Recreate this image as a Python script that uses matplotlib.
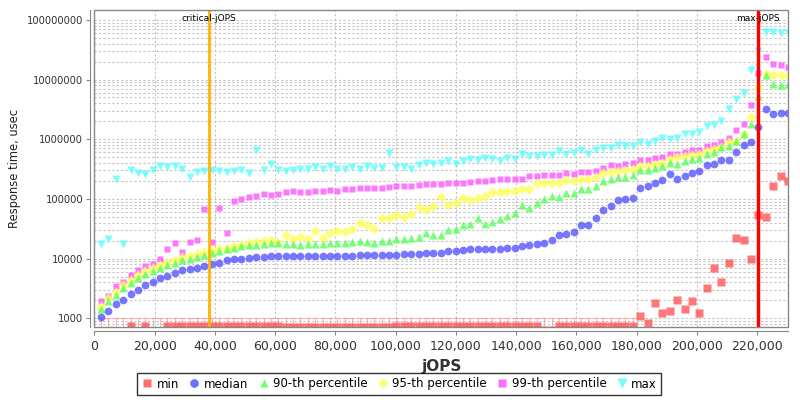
import matplotlib
matplotlib.use("Agg")
import matplotlib.pyplot as plt
import matplotlib.transforms as mtransforms
from matplotlib.lines import Line2D
from matplotlib.patches import Rectangle
from matplotlib.ticker import FuncFormatter, FixedLocator, LogLocator, NullFormatter

# jOPS of each response-time step
jops = [2222, 4673, 7124, 9575, 12026, 14477, 16928, 19379, 21830, 24281,
        26732, 29183, 31634, 34085, 36536, 38987, 41438, 43889, 46340, 48791,
        51242, 53693, 56144, 58595, 61046, 63497, 65948, 68399, 70850, 73301,
        75752, 78203, 80654, 83105, 85556, 88007, 90458, 92909, 95360, 97811,
        100262, 102713, 105164, 107615, 110066, 112517, 114968, 117419, 119870, 122321,
        124772, 127223, 129674, 132125, 134576, 137027, 139478, 141929, 144380, 146831,
        149282, 151733, 154184, 156635, 159086, 161537, 163988, 166439, 168890, 171341,
        173792, 176243, 178694, 181145, 183596, 186047, 188498, 190949, 193400, 195851,
        198302, 200753, 203204, 205655, 208106, 210557, 213008, 215459, 217910, 220361,
        222812, 225263, 227714, 230165]

rt_min = [550, 550, 550, 550, 740, 550, 740, 550, 550, 740,
          740, 740, 740, 740, 740, 740, 740, 740, 740, 740,
          740, 740, 740, 740, 740, 720, 720, 720, 720, 720,
          720, 720, 720, 720, 720, 720, 720, 720, 720, 720,
          750, 750, 750, 750, 750, 750, 750, 750, 750, 750,
          750, 750, 750, 750, 750, 750, 750, 750, 750, 750,
          640, 640, 750, 750, 750, 750, 750, 750, 750, 750,
          750, 750, 750, 1100, 825, 1820, 1210, 1320, 2030, 1430,
          1950, 1210, 3180, 6890, 4100, 8530, 22400, 20500, 9730, 53600,
          50400, 166000, 245000, 202000]

rt_median = [1030, 1310, 1720, 2000, 2520, 3020, 3570, 4060, 4740, 5190,
             5750, 6370, 6710, 7070, 7640, 8240, 8570, 9380, 9750, 10000,
             10400, 10670, 10670, 10950, 11100, 11100, 11100, 11200, 11200, 11200,
             11200, 11100, 11200, 11200, 11200, 11400, 11400, 11400, 11500, 11500,
             11700, 11800, 12000, 12100, 12300, 12400, 12600, 13300, 13400, 13800,
             14200, 14200, 14200, 14200, 14500, 14900, 15300, 16300, 16700, 17400,
             18500, 20300, 24600, 25600, 28000, 36200, 37200, 48100, 64600, 76400,
             95000, 98700, 105000, 153000, 163000, 188000, 211000, 259000, 219000, 243000,
             276000, 291000, 367000, 391000, 456000, 456000, 614000, 793000, 902000, 1610000,
             3180000, 2690000, 2800000, 2800000]

rt_p90 = [1450, 1930, 2430, 3220, 3910, 4740, 5460, 6140, 7060, 7730,
          8570, 9380, 10000, 10670, 11670, 12400, 13400, 14300, 15300, 16300,
          17200, 17200, 17800, 18500, 18500, 17800, 17400, 17200, 17800, 17800,
          17400, 18300, 18500, 18300, 19000, 19800, 19000, 18500, 19500, 19800,
          21100, 21400, 22200, 23100, 27300, 24600, 25200, 29900, 31800, 36200,
          38600, 48100, 38600, 41200, 46800, 51200, 58200, 80400, 71600, 85800,
          101000, 111000, 108000, 126000, 126000, 149000, 145000, 163000, 200000, 219000,
          234000, 234000, 252000, 302000, 310000, 335000, 362000, 401000, 391000, 428000,
          474000, 493000, 575000, 614000, 745000, 764000, 938000, 1210000, 1780000, 5260000,
          12100000, 8570000, 8040000, 8350000]

rt_p95 = [1630, 2160, 2720, 3610, 4380, 5310, 6120, 6870, 7910, 8660,
          9600, 10500, 11200, 11950, 13070, 13800, 14700, 15300, 16300, 17200,
          18500, 19000, 19800, 20300, 19000, 25200, 21600, 23100, 21600, 29100,
          22200, 26900, 29100, 28000, 31800, 40100, 37200, 31800, 48100, 48100,
          53200, 49900, 55300, 73500, 66200, 75400, 108000, 80400, 86900, 104000,
          95000, 104000, 112000, 131000, 128000, 138000, 138000, 145000, 145000, 185000,
          185000, 185000, 185000, 206000, 200000, 214000, 219000, 234000, 276000, 287000,
          294000, 302000, 314000, 357000, 357000, 381000, 406000, 470000, 506000, 526000,
          540000, 561000, 637000, 698000, 745000, 902000, 938000, 1240000, 2370000, 7350000,
          12600000, 12100000, 12100000, 11400000]

rt_p99 = [1930, 2400, 3440, 4060, 5260, 6550, 7440, 8240, 9750, 14700,
          18300, 13100, 18800, 20300, 67900, 18800, 71600, 27300, 93800, 98700,
          108000, 112000, 122800, 115000, 121300, 131000, 136000, 132700, 131000, 136000,
          138000, 140000, 136000, 145000, 145000, 153000, 153000, 153000, 153000, 159000,
          165000, 163000, 163000, 174000, 178000, 178000, 178000, 183000, 188000, 188000,
          190000, 198000, 203000, 211000, 214000, 214000, 219000, 219000, 243000, 243000,
          252000, 252000, 256000, 276000, 266000, 287000, 287000, 291000, 335000, 367000,
          362000, 381000, 401000, 456000, 456000, 487000, 506000, 575000, 575000, 614000,
          671000, 671000, 773000, 793000, 902000, 1030000, 1420000, 1830000, 3720000, 12900000,
          24000000, 18500000, 17400000, 16300000]

rt_max = [17800, 21600, 219000, 17800, 310000, 276000, 259000, 302000, 357000, 344000,
          357000, 322000, 234000, 280000, 298000, 310000, 291000, 284000, 291000, 302000,
          276000, 655000, 302000, 381000, 302000, 298000, 302000, 322000, 318000, 344000,
          314000, 352000, 318000, 322000, 344000, 314000, 357000, 335000, 335000, 590000,
          344000, 344000, 314000, 376000, 406000, 381000, 401000, 434000, 391000, 434000,
          462000, 445000, 487000, 474000, 434000, 493000, 462000, 575000, 526000, 526000,
          540000, 540000, 630000, 561000, 590000, 671000, 561000, 655000, 716000, 716000,
          793000, 773000, 764000, 902000, 845000, 938000, 1030000, 1000000, 1030000, 1210000,
          1210000, 1330000, 1650000, 1720000, 2000000, 3180000, 4810000, 5980000, 14300000, 29800000,
          63000000, 63000000, 61000000, 61000000]

critical_jops = 38000
max_jops = 220361

series = [
    ("min", rt_min, "s", 5.2, "#ff5555"),
    ("median", rt_median, "o", 5.6, "#5555ff"),
    ("90-th percentile", rt_p90, "^", 5.8, "#55ff55"),
    ("95-th percentile", rt_p95, "D", 4.6, "#ffff55"),
    ("99-th percentile", rt_p99, "s", 4.6, "#ff55ff"),
    ("max", rt_max, "v", 6.2, "#55ffff"),
]

fig = plt.figure(figsize=(8, 4), dpi=100)
ax = fig.add_axes([0.1179, 0.182, 0.8675, 0.792])

# min values under 1000 usec get a bar up to the 1000 line
low_x = [x for x, v in zip(jops[:73], rt_min[:73]) if v < 1000]
low_v = [v for v in rt_min[:73] if v < 1000]
ax.errorbar(low_x, low_v, yerr=[[0] * len(low_v), [1000 - v for v in low_v]],
            fmt="none", ecolor="#ff8080", alpha=0.6, elinewidth=0.8, capsize=2.2,
            capthick=0.8, zorder=2)

# JFreeChart draws the first series on top
for i, (name, vals, mk, ms, col) in enumerate(reversed(series)):
    ax.plot(jops, vals, ls="none", marker=mk, ms=ms, color=col, alpha=0.8,
            mec="none", zorder=3 + i)

ax.set_yscale("log")
ax.set_xlim(0, 230300)
ax.set_ylim(708, 1.44e8)

ax.xaxis.set_major_locator(FixedLocator(range(0, 230001, 20000)))
ax.xaxis.set_major_formatter(FuncFormatter(lambda v, p: f"{int(v):,}"))
ax.yaxis.set_major_locator(LogLocator(base=10, numticks=12))
ax.yaxis.set_minor_locator(LogLocator(base=10, subs=range(2, 10), numticks=12))
ax.yaxis.set_major_formatter(FuncFormatter(lambda v, p: f"{int(round(v))}"))
ax.yaxis.set_minor_formatter(NullFormatter())

ax.grid(True, which="major", axis="both", ls=(0, (2, 2)), color="#c4c4c4", lw=0.8)
ax.grid(True, which="minor", axis="y", ls=(0, (2, 2)), color="#c4c4c4", lw=0.8)
ax.set_axisbelow(True)

for s in ["top", "right"]:
    ax.spines[s].set_visible(False)
for s in ["left", "bottom"]:
    ax.spines[s].set_position(("outward", 3))
    ax.spines[s].set_color("#888888")
ax.add_patch(Rectangle((0, 0), 1, 1, transform=ax.transAxes, fill=False,
                       ec="#888888", lw=1, clip_on=False, zorder=20))

ax.tick_params(axis="both", which="major", direction="out", length=3,
               color="#888888", labelcolor="#333333")
ax.tick_params(axis="y", which="major", labelsize=7.2, pad=2)
ax.tick_params(axis="y", which="minor", length=0)
ax.tick_params(axis="x", labelsize=9)

ax.set_xlabel("jOPS", fontsize=11, fontweight="bold", color="#333333", labelpad=4)
ax.set_ylabel("Response time, usec", fontsize=8.3, color="#222222", labelpad=4)

ax.axvline(critical_jops, color="#ffb400", lw=2, zorder=10)
ax.axvline(max_jops, color="#ff0000", lw=2.5, zorder=10)
trans = mtransforms.blended_transform_factory(ax.transData, ax.transAxes)
ax.text(critical_jops, 0.975, "critical-jOPS", transform=trans, ha="center",
        va="center", fontsize=6.5, zorder=11)
ax.text(max_jops, 0.975, "max-jOPS", transform=trans, ha="center",
        va="center", fontsize=6.5, zorder=11)

handles = [Line2D([], [], ls="none", marker=mk, ms=ms + 0.6, color=col, alpha=0.85, mec="none")
           for name, vals, mk, ms, col in series]
labels = [name for name, *_ in series]
leg = fig.legend(handles, labels, loc="center", bbox_to_anchor=(0.499, 0.04), ncol=6,
                 frameon=True, fancybox=False, edgecolor="black", fontsize=8.5,
                 handletextpad=0.3, columnspacing=0.8, borderpad=0.35, handlelength=1.0)
leg.get_frame().set_linewidth(1)

fig.savefig("out.png", dpi=100)
